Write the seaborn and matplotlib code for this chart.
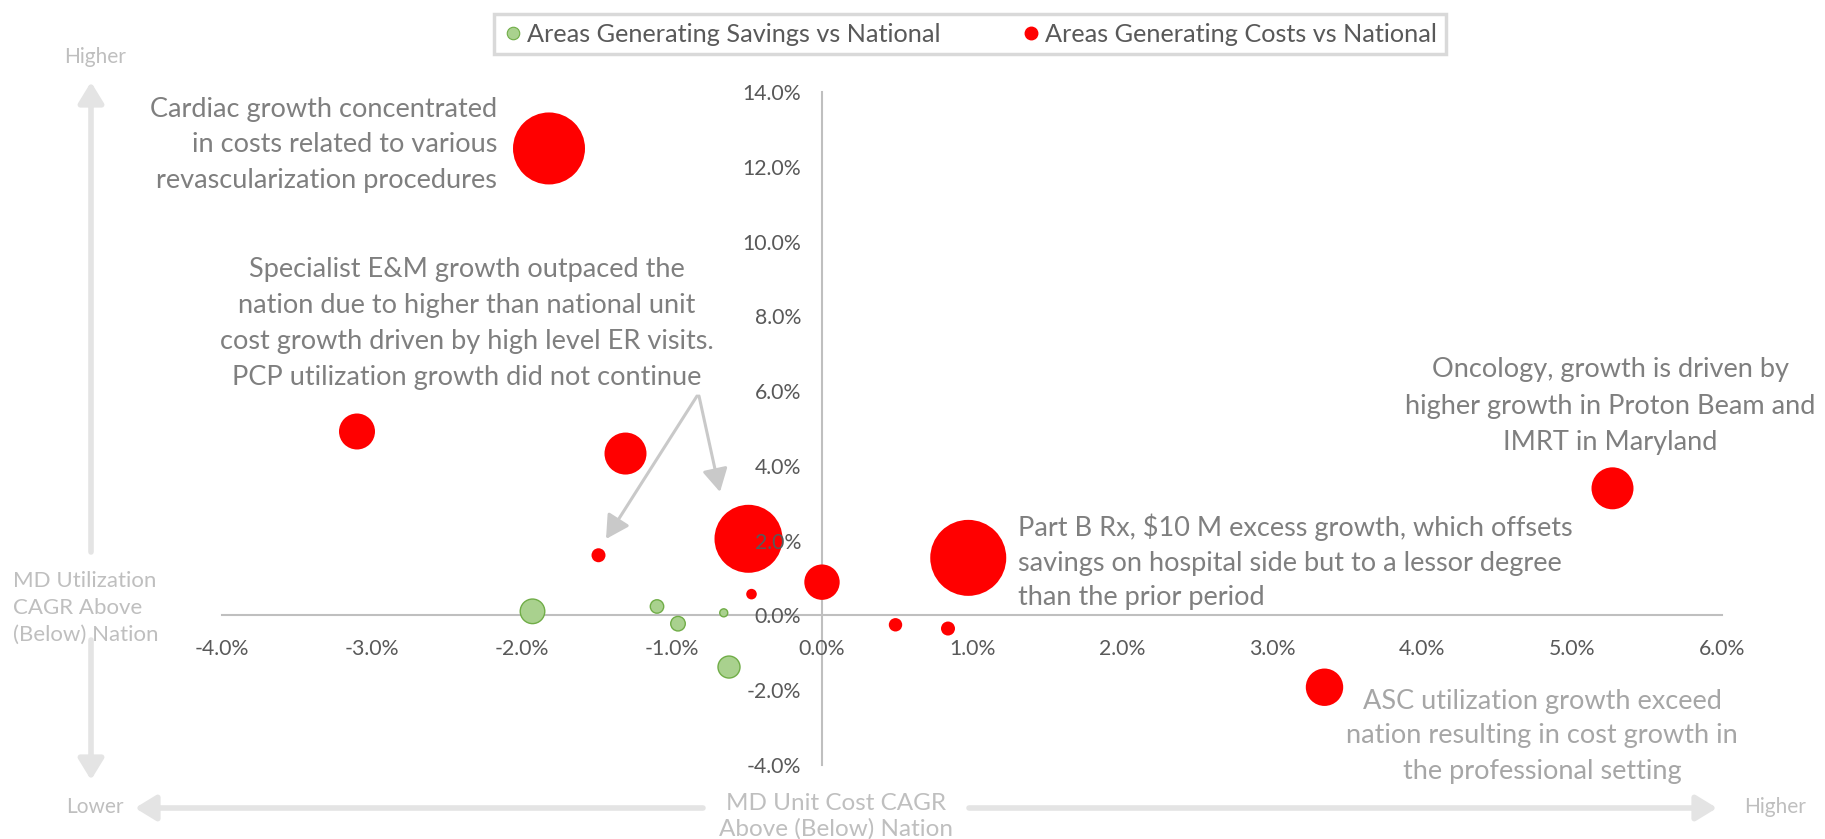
import matplotlib
matplotlib.use("Agg")
import matplotlib.pyplot as plt
import seaborn as sns
import pandas as pd
from matplotlib.lines import Line2D
from matplotlib.ticker import FuncFormatter

# ---------------- data (percent points) ----------------
sav_x = [-1.93, -1.10, -0.96, -0.655, -0.62]
sav_y = [0.11, 0.24, -0.22, 0.07, -1.38]
sav_size = [151, 45, 53, 16, 121]

cost_x = [-1.82, -3.10, -1.31, -1.49, -0.49, -0.47, 0.00, 0.975, 0.49, 0.84, 5.27, 3.35]
cost_y = [12.49, 4.92, 4.33, 1.61, 2.05, 0.57, 0.89, 1.54, -0.25, -0.35, 3.40, -1.92]
cost_size = [1296, 324, 441, 49, 1156, 28, 313, 1444, 45, 49, 441, 350]

legend_labels = ["Areas Generating Savings vs National", "Areas Generating Costs vs National"]

x_ticks = [-4, -3, -2, -1, 0, 1, 2, 3, 4, 5, 6]
y_ticks = [-4, -2, 0, 2, 4, 6, 8, 10, 12, 14]

sav_df = pd.DataFrame({"x": sav_x, "y": sav_y, "size": sav_size})
cost_df = pd.DataFrame({"x": cost_x, "y": cost_y, "size": cost_size})

# ---------------- style ----------------
sns.set_style("white")
plt.rcParams["font.family"] = ["Lato", "DejaVu Sans"]
plt.rcParams["axes.axisbelow"] = False

W, H = 1825, 839
fig = plt.figure(figsize=(W / 100, H / 100), dpi=100)
L, R, T, B = 222, 1722, 92, 765
ax = fig.add_axes([L / W, (H - B) / H, (R - L) / W, (B - T) / H])

size_max = max(cost_size)
smax = 2.0736 * size_max

sns.scatterplot(data=sav_df, x="x", y="y", size="size", sizes=(0, smax),
                size_norm=(0, size_max), color="#A9D18E", edgecolor="#70AD47",
                linewidth=1.0, legend=False, ax=ax)
sns.scatterplot(data=cost_df, x="x", y="y", size="size", sizes=(0, smax),
                size_norm=(0, size_max), color="#FF0000", edgecolor="none",
                linewidth=0, legend=False, ax=ax)
for c in ax.collections:
    c.set_zorder(1.2)

ax.set_xlim(-4, 6)
ax.set_ylim(-4, 14)
ax.set_xticks(x_ticks)
ax.set_yticks(y_ticks)
ax.xaxis.set_major_formatter(FuncFormatter(lambda v, p: f"{v:.1f}%"))
ax.yaxis.set_major_formatter(FuncFormatter(lambda v, p: f"{v:.1f}%"))
ax.set_xlabel("")
ax.set_ylabel("")
for s in ["top", "right"]:
    ax.spines[s].set_visible(False)
ax.spines["left"].set_position(("data", 0))
ax.spines["bottom"].set_position(("data", 0))
for s in ["left", "bottom"]:
    ax.spines[s].set_color("#BFBFBF")
    ax.spines[s].set_linewidth(1.5)
    ax.spines[s].set_zorder(1)
ax.tick_params(axis="both", length=0, labelsize=15.3, labelcolor="#595959")
ax.tick_params(axis="y", pad=15)
ax.tick_params(axis="x", pad=17)
ax.grid(False)
ax.patch.set_alpha(0)
ax.xaxis.set_zorder(10)
ax.yaxis.set_zorder(10)
for lab in ax.get_yticklabels() + ax.get_xticklabels():
    lab.set_zorder(10)

# ---------------- legend ----------------
handles = [
    Line2D([0], [0], marker="o", linestyle="none", markersize=9,
           markerfacecolor="#A9D18E", markeredgecolor="#70AD47", markeredgewidth=0.8),
    Line2D([0], [0], marker="o", linestyle="none", markersize=9,
           markerfacecolor="#FF0000", markeredgecolor="#FF0000"),
]
leg = fig.legend(handles, legend_labels, loc="center", bbox_to_anchor=(970 / W, 1 - 34 / H),
                 ncol=2, frameon=True, fancybox=False, edgecolor="#D9D9D9", framealpha=1,
                 fontsize=18.2, labelcolor="#595959", handletextpad=0.15, columnspacing=3.2,
                 handlelength=0.8, borderpad=0.35)
leg.get_frame().set_linewidth(2.5)


def fx(px):
    return px / W


def fy(py):
    return 1 - py / H


# ---------------- annotations ----------------
dark = "#7F7F7F"
light = "#A6A6A6"
faint = "#BFBFBF"
asz = 19.5

fig.text(fx(497), fy(145), "Cardiac growth concentrated\nin costs related to various\nrevascularization procedures",
         ha="right", va="center", multialignment="right", color=dark, fontsize=asz, linespacing=1.52)
fig.text(fx(467), fy(323), "Specialist E&M growth outpaced the\nnation due to higher than national unit\n"
         "cost growth driven by high level ER visits.\nPCP utilization growth did not continue",
         ha="center", va="center", multialignment="center", color=dark, fontsize=asz, linespacing=1.55)
fig.text(fx(1610), fy(406), "Oncology, growth is driven by\nhigher growth in Proton Beam and\nIMRT in Maryland",
         ha="center", va="center", multialignment="center", color=dark, fontsize=asz, linespacing=1.58)
fig.text(fx(1018), fy(562), "Part B Rx, $10 M excess growth, which offsets\nsavings on hospital side but to a lessor degree\nthan the prior period",
         ha="left", va="center", multialignment="left", color=dark, fontsize=asz, linespacing=1.47,
         parse_math=False)
fig.text(fx(1542), fy(736), "ASC utilization growth exceed\nnation resulting in cost growth in\nthe professional setting",
         ha="center", va="center", multialignment="center", color=light, fontsize=asz, linespacing=1.5)

fig.text(fx(95), fy(57), "Higher", ha="center", va="center", color=faint, fontsize=15)
fig.text(fx(13), fy(608), "MD Utilization\nCAGR Above\n(Below) Nation", ha="left", va="center",
         color=faint, fontsize=16, linespacing=1.45)
fig.text(fx(95), fy(807), "Lower", ha="center", va="center", color=faint, fontsize=15)
fig.text(fx(1775), fy(807), "Higher", ha="center", va="center", color=faint, fontsize=15)
fig.text(fx(836), fy(816), "MD Unit Cost CAGR\nAbove (Below) Nation", ha="center", va="center",
         multialignment="center", color=faint, fontsize=17.5, linespacing=1.25)

# axis direction arrows
arrow_c = "#E4E4E4"
for (x0, y0), (x1, y1) in [((91, 552), (91, 82)), ((91, 640), (91, 780)),
                           ((703, 808), (135, 808)), ((969, 808), (1717, 808))]:
    fig.add_artist(matplotlib.patches.FancyArrowPatch(
        (fx(x0), fy(y0)), (fx(x1), fy(y1)), transform=fig.transFigure,
        arrowstyle="-|>,head_length=0.9,head_width=0.55", mutation_scale=14,
        color=arrow_c, lw=4, shrinkA=0, shrinkB=0))

# callout arrows
call_c = "#C9C9C9"
for (x0, y0), (x1, y1) in [((697, 396), (606, 539)), ((699, 396), (720, 492))]:
    fig.add_artist(matplotlib.patches.FancyArrowPatch(
        (fx(x0), fy(y0)), (fx(x1), fy(y1)), transform=fig.transFigure,
        arrowstyle="-|>,head_length=1.0,head_width=0.55", mutation_scale=14,
        color=call_c, lw=2.2, shrinkA=0, shrinkB=0))

fig.savefig("out.png", dpi=100, facecolor="white")
